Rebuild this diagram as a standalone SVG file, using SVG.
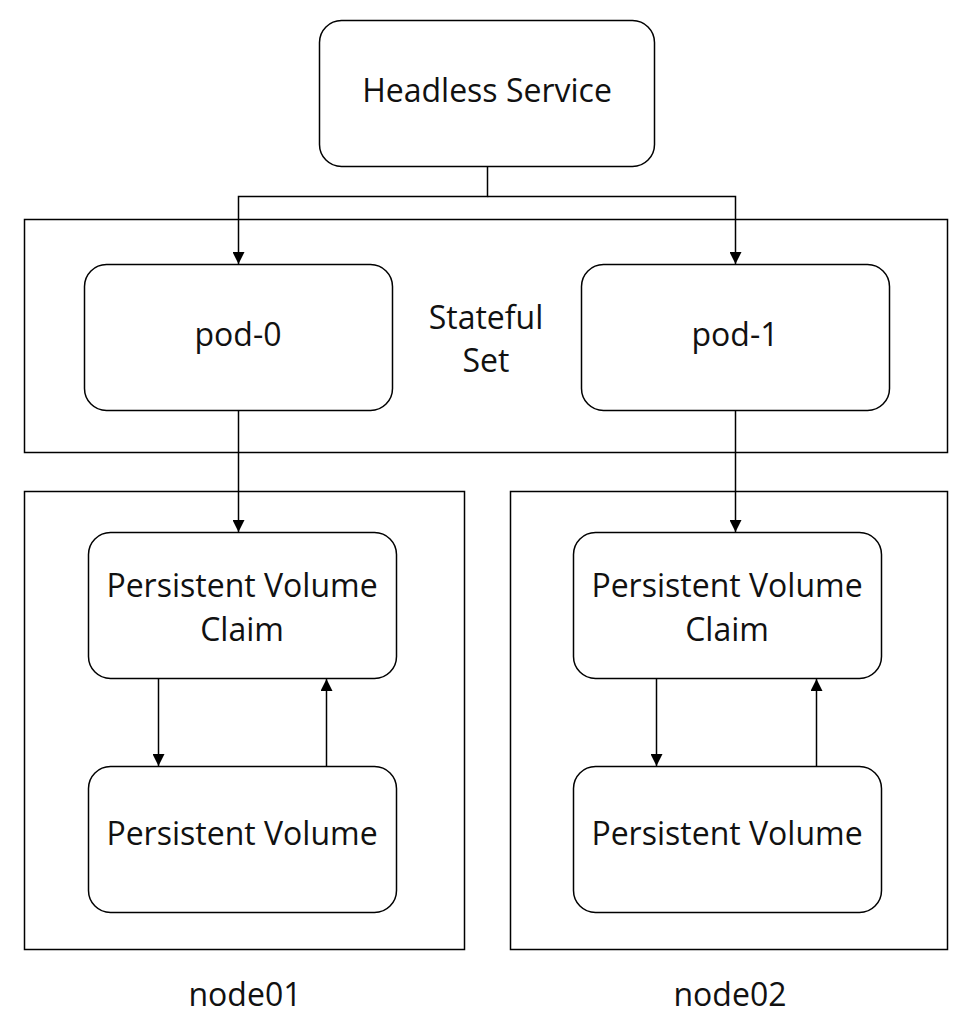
<svg xmlns="http://www.w3.org/2000/svg" width="974" height="1033" viewBox="0 0 974 1033">
<defs>
<style>
.box{fill:#fff;stroke:#000;stroke-width:1.5}
.frame{fill:none;stroke:#000;stroke-width:1.5}
.t{font-family:"Open Sans","Noto Sans",sans-serif;font-size:32px;fill:#111;text-anchor:middle}
.c{fill:none;stroke:#000;stroke-width:1.5}
</style>
<marker id="ah" viewBox="0 0 12 12" refX="12" refY="6" markerWidth="12" markerHeight="12" markerUnits="userSpaceOnUse" orient="auto">
<path d="M0,0 L12,6 L0,12 z" fill="#000"/>
</marker>
</defs>
<rect width="974" height="1033" fill="#fff"/>
<g id="statefulset">
<rect class="frame" x="24.5" y="219.5" width="923" height="233"/>
<text class="t" x="486" y="329">Stateful</text>
<text class="t" x="486" y="372">Set</text>
</g>
<g id="node01">
<rect class="frame" x="24.5" y="491.5" width="440" height="458"/>
<text class="t" x="245" y="1006">node01</text>
</g>
<g id="node02">
<rect class="frame" x="510.5" y="491.5" width="437" height="458"/>
<text class="t" x="730" y="1006">node02</text>
</g>
<g id="headless-service">
<rect class="box" x="319.5" y="20.5" width="335" height="146" rx="22"/>
<text class="t" x="487" y="102">Headless Service</text>
</g>
<g id="pod-0">
<rect class="box" x="84.5" y="264.5" width="308" height="146" rx="22"/>
<text class="t" x="238" y="346">pod-0</text>
</g>
<g id="pod-1">
<rect class="box" x="581.5" y="264.5" width="308" height="146" rx="22"/>
<text class="t" x="735" y="346">pod-1</text>
</g>
<g id="pvc-1">
<rect class="box" x="88.5" y="532.5" width="308" height="146" rx="22"/>
<text class="t" x="242" y="597">Persistent Volume</text>
<text class="t" x="242" y="641">Claim</text>
</g>
<g id="pv-1">
<rect class="box" x="88.5" y="766.5" width="308" height="146" rx="22"/>
<text class="t" x="242" y="845">Persistent Volume</text>
</g>
<g id="pvc-2">
<rect class="box" x="573.5" y="532.5" width="308" height="146" rx="22"/>
<text class="t" x="727" y="597">Persistent Volume</text>
<text class="t" x="727" y="641">Claim</text>
</g>
<g id="pv-2">
<rect class="box" x="573.5" y="766.5" width="308" height="146" rx="22"/>
<text class="t" x="727" y="845">Persistent Volume</text>
</g>
<g id="connectors">
<path class="c" d="M487.5,166.5 V196.5 H238.5 V264" marker-end="url(#ah)"/>
<path class="c" d="M487.5,196.5 H735.5 V264" marker-end="url(#ah)"/>
<path class="c" d="M238.5,410.5 V532" marker-end="url(#ah)"/>
<path class="c" d="M735.5,410.5 V532" marker-end="url(#ah)"/>
<path class="c" d="M158.5,678.5 V766" marker-end="url(#ah)"/>
<path class="c" d="M326.5,766.5 V679" marker-end="url(#ah)"/>
<path class="c" d="M656.5,678.5 V766" marker-end="url(#ah)"/>
<path class="c" d="M816.5,766.5 V679" marker-end="url(#ah)"/>
</g>
</svg>
